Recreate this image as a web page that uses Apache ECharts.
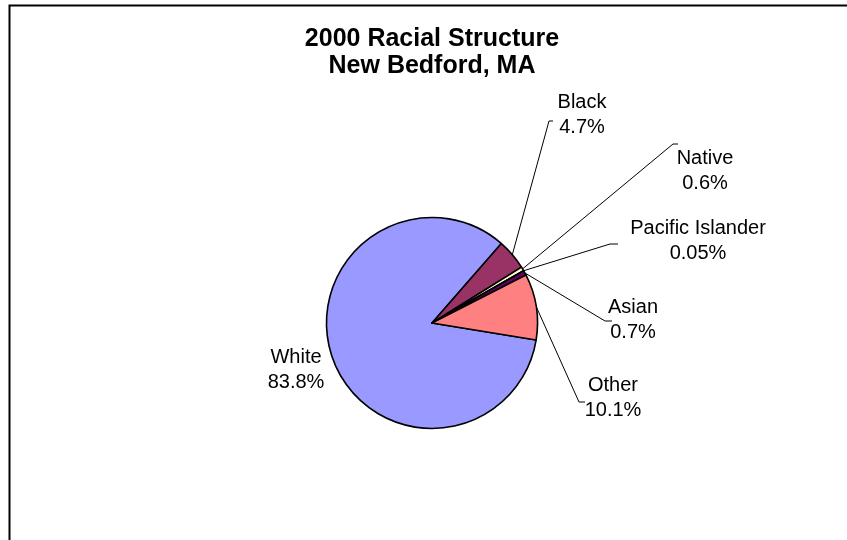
<!DOCTYPE html>
<html>
<head>
<meta charset="utf-8">
<script src="https://cdn.jsdelivr.net/npm/echarts@6/dist/echarts.min.js"></script>
<style>
html,body{margin:0;padding:0;background:#fff;overflow:hidden;}
#chart{width:847px;height:540px;}
</style>
</head>
<body>
<div id="chart"></div>
<script>
// Data
var categories = ['White', 'Black', 'Native', 'Pacific Islander', 'Asian', 'Other'];
var percents = [83.8, 4.7, 0.6, 0.05, 0.7, 10.1];
var sliceColors = ['#9999FF', '#993366', '#FFFFCC', '#CCFFFF', '#660066', '#FF8080'];
var titleLines = ['2000 Racial Structure', 'New Bedford, MA'];

// Label placement (layout only): centre of text block, leader elbow, leader end
var labelPlace = [
  {x: 296, y: 370, line: false},
  {x: 582, y: 115, elbow: [549, 121], end: [553, 121]},
  {x: 705, y: 171, elbow: [673, 144], end: [678, 144]},
  {x: 698, y: 241, elbow: [610, 244], end: [618, 244]},
  {x: 633, y: 320, elbow: [605, 321], end: [612, 321]},
  {x: 613, y: 398, elbow: [579, 402], end: [585, 402]}
];

var data = categories.map(function (c, i) {
  var item = {name: c, value: percents[i], itemStyle: {color: sliceColors[i]}};
  if (labelPlace[i].line === false) item.labelLine = {show: false};
  return item;
});

var chart = echarts.init(document.getElementById('chart'), null, {renderer: 'canvas'});
chart.setOption({
  animation: false,
  backgroundColor: '#ffffff',
  title: {
    text: titleLines.join('\n'),
    left: 432,
    textAlign: 'center',
    top: 26,
    padding: 0,
    textStyle: {
      fontFamily: 'Liberation Sans, Arial, sans-serif',
      fontWeight: 'bold',
      fontSize: 25,
      lineHeight: 27,
      color: '#000'
    }
  },
  graphic: [{
    type: 'polyline',
    shape: {points: [[9.5, 545], [9.5, 5.5], [850, 5.5]]},
    style: {stroke: '#000', lineWidth: 2, fill: null},
    silent: true
  }],
  series: [{
    type: 'pie',
    center: [432, 323],
    radius: 105.5,
    startAngle: 350.7,
    clockwise: true,
    avoidLabelOverlap: false,
    minAngle: 0,
    itemStyle: {borderColor: '#000', borderWidth: 1.6},
    emphasis: {disabled: true},
    label: {
      show: true,
      position: 'outside',
      formatter: '{b}\n{c}%',
      fontFamily: 'Liberation Sans, Arial, sans-serif',
      fontSize: 20,
      lineHeight: 25.5,
      color: '#000',
      align: 'center'
    },
    labelLine: {
      show: true,
      length: 10,
      length2: 10,
      lineStyle: {color: '#000', width: 1}
    },
    labelLayout: function (params) {
      var p = labelPlace[params.dataIndex];
      var out = {x: p.x, y: p.y, align: 'center', verticalAlign: 'middle', hideOverlap: false, moveOverlap: null};
      if (p.line !== false && params.labelLinePoints) {
        out.labelLinePoints = [params.labelLinePoints[0], p.elbow, p.end];
      }
      return out;
    },
    data: data
  }]
});
</script>
</body>
</html>
